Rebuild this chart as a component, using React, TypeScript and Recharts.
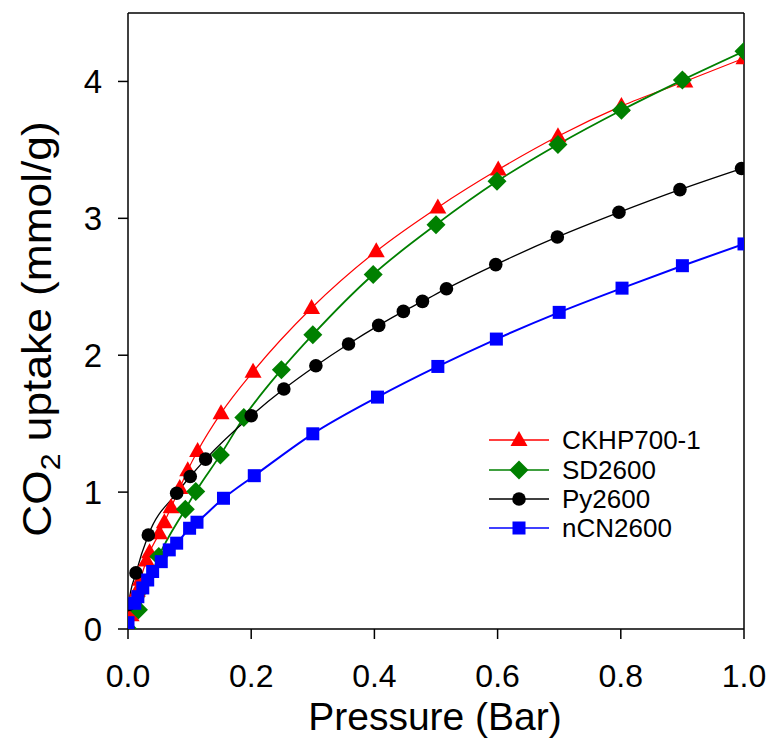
import React from 'react';
import { LineChart, Line, XAxis, YAxis, ReferenceLine, Legend, Label } from 'recharts';

const FONT = '"Liberation Sans", Arial, Helvetica, sans-serif';

// ---- Data ----
const ckhpPressure = [0, 0.005, 0.01, 0.015, 0.02, 0.03, 0.035, 0.051, 0.059, 0.07, 0.084, 0.097, 0.113, 0.151, 0.203, 0.298, 0.403, 0.503, 0.601, 0.698, 0.801, 0.904, 1.0];
const ckhpUptake = [0, 0.1, 0.2, 0.28, 0.36, 0.5, 0.56, 0.7, 0.78, 0.89, 1.03, 1.16, 1.3, 1.577, 1.88, 2.345, 2.76, 3.08, 3.356, 3.6, 3.82, 4.0, 4.17];

const sdPressure = [0, 0.017, 0.05, 0.093, 0.11, 0.15, 0.188, 0.249, 0.3, 0.398, 0.5, 0.599, 0.698, 0.801, 0.9, 1.0];
const sdUptake = [0, 0.14, 0.53, 0.875, 1.004, 1.272, 1.545, 1.894, 2.15, 2.59, 2.954, 3.27, 3.54, 3.79, 4.01, 4.22];

const pyPressure = [0, 0.001, 0.013, 0.033, 0.079, 0.101, 0.126, 0.2, 0.253, 0.305, 0.358, 0.407, 0.447, 0.478, 0.517, 0.597, 0.697, 0.797, 0.896, 0.996];
const pyUptake = [0, 0.18, 0.41, 0.687, 0.992, 1.114, 1.241, 1.558, 1.753, 1.923, 2.082, 2.218, 2.32, 2.393, 2.486, 2.662, 2.864, 3.044, 3.21, 3.364];

const ncnPressure = [0, 0.011, 0.016, 0.024, 0.032, 0.04, 0.054, 0.067, 0.079, 0.1, 0.112, 0.155, 0.205, 0.3, 0.405, 0.503, 0.598, 0.7, 0.802, 0.9, 1.0];
const ncnUptake = [0.046, 0.188, 0.236, 0.3, 0.358, 0.42, 0.492, 0.578, 0.627, 0.736, 0.78, 0.955, 1.12, 1.426, 1.694, 1.918, 2.118, 2.313, 2.49, 2.654, 2.813];

const seriesNames = ['CKHP700-1', 'SD2600', 'Py2600', 'nCN2600'];
const seriesColors = ['#ff0000', '#008000', '#000000', '#0000ff'];

const xTicks = [0, 0.2, 0.4, 0.6, 0.8, 1.0];
const yTicks = [0, 1, 2, 3, 4];

const toData = (xs: number[], ys: number[]) => xs.map((x, i) => ({ x, y: ys[i] }));

const ckhpData = toData(ckhpPressure, ckhpUptake);
const sdData = toData(sdPressure, sdUptake);
const pyData = toData(pyPressure, pyUptake);
const ncnData = toData(ncnPressure, ncnUptake);

// ---- Markers ----
type Shape = 'triangle' | 'diamond' | 'circle' | 'square';
const seriesShapes: Shape[] = ['triangle', 'diamond', 'circle', 'square'];

function marker(shape: Shape, cx: number, cy: number, fill: string, key?: string) {
  switch (shape) {
    case 'triangle':
      return <polygon key={key} points={`${cx},${cy - 9} ${cx - 8.5},${cy + 6} ${cx + 8.5},${cy + 6}`} fill={fill} />;
    case 'diamond':
      return <polygon key={key} points={`${cx},${cy - 9.5} ${cx + 9.5},${cy} ${cx},${cy + 9.5} ${cx - 9.5},${cy}`} fill={fill} />;
    case 'circle':
      return <circle key={key} cx={cx} cy={cy} r={6.8} fill={fill} />;
    default:
      return <rect key={key} x={cx - 6.5} y={cy - 6.5} width={13} height={13} fill={fill} />;
  }
}

const makeDot = (i: number) => (props: any) => {
  const { cx, cy, index } = props;
  const key = `d-${i}-${index}`;
  if (cx == null || cy == null || isNaN(cx) || isNaN(cy)) return <g key={key} />;
  return marker(seriesShapes[i], cx, cy, seriesColors[i], key);
};

const LegendContent = (props: any) => {
  const payload = [...(props.payload || [])].sort(
    (a: any, b: any) => seriesNames.indexOf(a.value) - seriesNames.indexOf(b.value)
  );
  const rowY = [20, 50, 79, 108];
  return (
    <svg width={270} height={125} style={{ overflow: 'visible' }}>
      {payload.map((entry: any, k: number) => {
        const idx = seriesNames.indexOf(entry.value);
        const i = idx >= 0 ? idx : k;
        const cy = rowY[k];
        return (
          <g key={`lg-${k}`}>
            <line x1={4} y1={cy} x2={64} y2={cy} stroke={seriesColors[i]} strokeWidth={1.5} />
            {marker(seriesShapes[i], 34, cy, seriesColors[i])}
            <text x={77} y={cy + 9} fontSize={26} fontFamily={FONT} fill="#000">
              {seriesNames[i]}
            </text>
          </g>
        );
      })}
    </svg>
  );
};

const YTitle = () => {
  return (
    <text
      transform="translate(51, 329) rotate(-90) scale(1.08, 1)"
      x={0}
      y={0}
      textAnchor="middle"
      fontSize={41}
      fontFamily={FONT}
      fill="#000"
    >
      CO
      <tspan fontSize={28} dy={9}>2</tspan>
      <tspan dy={-9}> uptake (mmol/g)</tspan>
    </text>
  );
};

const XTitle = (props: any) => {
  const vb = props.viewBox || { x: 128, y: 629, width: 616 };
  return (
    <text x={vb.x + vb.width / 2 - 1} y={730} textAnchor="middle" fontSize={39} fontFamily={FONT} fill="#000">
      Pressure (Bar)
    </text>
  );
};

const datasets = [ckhpData, sdData, pyData, ncnData];
const strokeWidths = [1.2, 1.8, 1.3, 2];

export default function App() {
  return (
    <div style={{ position: 'absolute', left: 0, top: 0, background: '#fff' }}>
      <LineChart width={769} height={738} margin={{ top: 13, right: 25, bottom: 0, left: 0 }}>
        <XAxis
          dataKey="x"
          type="number"
          domain={[0, 1]}
          ticks={xTicks}
          allowDataOverflow
          tickFormatter={(v: number) => v.toFixed(1)}
          tickSize={10}
          tickMargin={25}
          height={109}
          stroke="#000"
          strokeWidth={1.5}
          tick={{ fontSize: 32, fill: '#000', fontFamily: FONT }}
        >
          <Label content={<XTitle />} />
        </XAxis>
        <YAxis
          type="number"
          domain={[0, 4.5]}
          ticks={yTicks}
          allowDataOverflow
          tickSize={10}
          tickMargin={16}
          width={128}
          stroke="#000"
          strokeWidth={1.5}
          tick={{ fontSize: 33, fill: '#000', fontFamily: FONT }}
        >
          <Label content={<YTitle />} />
        </YAxis>
        <ReferenceLine y={4.5} stroke="#000" strokeWidth={1.5} ifOverflow="visible" />
        <ReferenceLine x={1} stroke="#000" strokeWidth={1.5} ifOverflow="visible" />
        {datasets.map((d, i) => (
          <Line
            key={seriesNames[i]}
            data={d}
            dataKey="y"
            name={seriesNames[i]}
            type="monotone"
            stroke={seriesColors[i]}
            strokeWidth={strokeWidths[i]}
            dot={makeDot(i)}
            activeDot={false}
            isAnimationActive={false}
          />
        ))}
        <Legend
          layout="vertical"
          align="center"
          verticalAlign="middle"
          content={<LegendContent />}
          wrapperStyle={{ position: 'absolute', left: 485, top: 420, width: 270, height: 125 }}
        />
      </LineChart>
    </div>
  );
}
